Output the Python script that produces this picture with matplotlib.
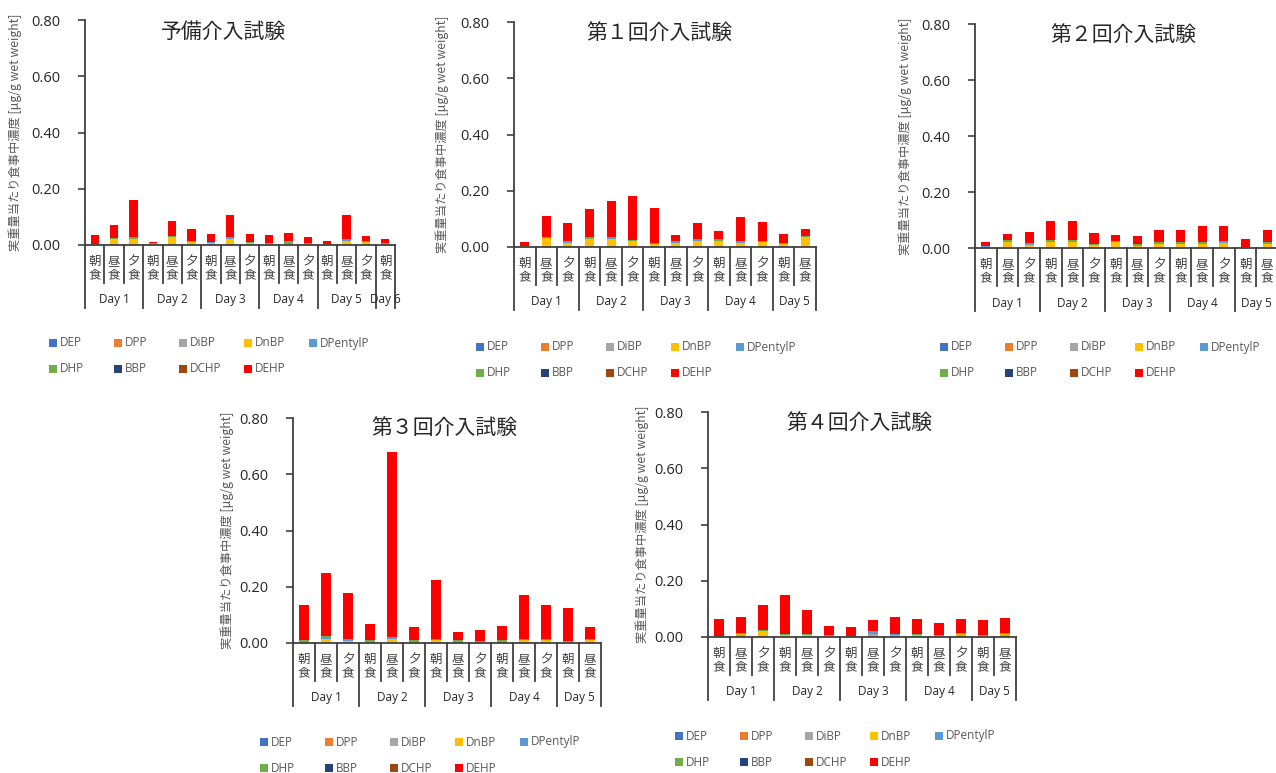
import matplotlib
matplotlib.use("Agg")
import matplotlib.pyplot as plt
from matplotlib.patches import Rectangle
from matplotlib.lines import Line2D
from matplotlib.transforms import blended_transform_factory
import numpy as np

plt.rcParams['font.family'] = ['Open Sans', 'Noto Sans CJK JP', 'DejaVu Sans']

W, H = 1276, 773

COMPOUNDS = ["DEP", "DPP", "DiBP", "DnBP", "DPentylP", "DHP", "BBP", "DCHP", "DEHP"]
COLORS = ["#4472C4", "#ED7D31", "#A5A5A5", "#FFC000", "#5B9BD5",
          "#70AD47", "#264478", "#9E480E", "#FF0000"]
YLABEL = "実重量当たり食事中濃度 [μg/g wet weight]"
YTICKS = [0.0, 0.2, 0.4, 0.6, 0.8]

# ---- 予備介入試験 ----
PRE_TITLE = "予備介入試験"
PRE_MEALS = ["朝食", "昼食", "夕食", "朝食", "昼食", "夕食", "朝食", "昼食", "夕食",
             "朝食", "昼食", "夕食", "朝食", "昼食", "夕食", "朝食"]
PRE_DAYS = ["Day 1", "Day 2", "Day 3", "Day 4", "Day 5", "Day 6"]
PRE_DAY_SIZES = [3, 3, 3, 3, 3, 1]
PRE_DEP = [0.0, 0.0, 0.0, 0.0, 0.0, 0.0, 0.0, 0.0, 0.0, 0.0, 0.0, 0.0, 0.0, 0.0, 0.0, 0.0]
PRE_DPP = [0.0, 0.0, 0.0, 0.0, 0.0, 0.0, 0.0, 0.0, 0.0, 0.0, 0.0, 0.0, 0.0, 0.0, 0.0, 0.0]
PRE_DIBP = [0.001, 0.003, 0.004, 0.001, 0.003, 0.002, 0.002, 0.003, 0.002, 0.001, 0.002, 0.001, 0.001, 0.002, 0.002, 0.001]
PRE_DNBP = [0.001, 0.017, 0.016, 0.002, 0.024, 0.008, 0.006, 0.019, 0.004, 0.002, 0.003, 0.003, 0.001, 0.013, 0.008, 0.003]
PRE_DPENTYLP = [0.001, 0.002, 0.002, 0.001, 0.002, 0.002, 0.001, 0.002, 0.002, 0.001, 0.003, 0.002, 0.001, 0.002, 0.002, 0.002]
PRE_DHP = [0.001, 0.002, 0.005, 0.002, 0.003, 0.002, 0.002, 0.003, 0.002, 0.002, 0.005, 0.002, 0.001, 0.003, 0.002, 0.002]
PRE_BBP = [0.0, 0.0, 0.0, 0.0, 0.0, 0.0, 0.0, 0.0, 0.0, 0.0, 0.0, 0.0, 0.0, 0.0, 0.0, 0.0]
PRE_DCHP = [0.0, 0.0, 0.0, 0.0, 0.0, 0.0, 0.0, 0.0, 0.0, 0.0, 0.0, 0.0, 0.0, 0.0, 0.0, 0.0]
PRE_DEHP = [0.032, 0.047, 0.134, 0.004, 0.054, 0.042, 0.027, 0.078, 0.029, 0.029, 0.029, 0.020, 0.011, 0.085, 0.019, 0.012]

# ---- 介入試験 第1回〜第4回 (14 meals each) ----
INT_MEALS = ["朝食", "昼食", "夕食", "朝食", "昼食", "夕食", "朝食", "昼食", "夕食",
             "朝食", "昼食", "夕食", "朝食", "昼食"]
INT_DAYS = ["Day 1", "Day 2", "Day 3", "Day 4", "Day 5"]
INT_DAY_SIZES = [3, 3, 3, 3, 2]
INT_ND = [0.0, 0.0, 0.0, 0.0, 0.0, 0.0, 0.0, 0.0, 0.0, 0.0, 0.0, 0.0, 0.0, 0.0]

R1_TITLE = "第１回介入試験"
R1_DIBP = [0.001, 0.003, 0.003, 0.003, 0.003, 0.002, 0.002, 0.002, 0.003, 0.003, 0.002, 0.002, 0.002, 0.004]
R1_DNBP = [0.002, 0.028, 0.010, 0.025, 0.027, 0.018, 0.010, 0.013, 0.019, 0.017, 0.013, 0.016, 0.008, 0.030]
R1_DPENTYLP = [0.001, 0.001, 0.004, 0.002, 0.002, 0.002, 0.002, 0.002, 0.004, 0.003, 0.002, 0.002, 0.002, 0.003]
R1_DHP = [0.001, 0.002, 0.005, 0.004, 0.002, 0.002, 0.002, 0.003, 0.004, 0.004, 0.003, 0.003, 0.003, 0.003]
R1_DEHP = [0.013, 0.077, 0.064, 0.101, 0.128, 0.159, 0.122, 0.021, 0.054, 0.031, 0.085, 0.065, 0.030, 0.024]

R2_TITLE = "第２回介入試験"
R2_DIBP = [0.002, 0.003, 0.002, 0.003, 0.003, 0.002, 0.002, 0.002, 0.002, 0.002, 0.002, 0.002, 0.001, 0.002]
R2_DNBP = [0.003, 0.017, 0.010, 0.017, 0.019, 0.008, 0.020, 0.006, 0.013, 0.013, 0.013, 0.016, 0.003, 0.011]
R2_DPENTYLP = [0.001, 0.004, 0.002, 0.003, 0.004, 0.002, 0.001, 0.003, 0.002, 0.002, 0.003, 0.003, 0.000, 0.003]
R2_DHP = [0.001, 0.004, 0.003, 0.004, 0.004, 0.003, 0.001, 0.003, 0.003, 0.003, 0.004, 0.003, 0.001, 0.004]
R2_DEHP = [0.014, 0.021, 0.039, 0.069, 0.068, 0.037, 0.021, 0.029, 0.044, 0.046, 0.058, 0.056, 0.027, 0.044]

R3_TITLE = "第３回介入試験"
R3_DIBP = [0.002, 0.004, 0.003, 0.003, 0.004, 0.002, 0.003, 0.002, 0.002, 0.002, 0.003, 0.003, 0.002, 0.003]
R3_DNBP = [0.003, 0.011, 0.005, 0.001, 0.011, 0.002, 0.009, 0.001, 0.001, 0.002, 0.007, 0.007, 0.001, 0.007]
R3_DPENTYLP = [0.002, 0.005, 0.002, 0.004, 0.003, 0.004, 0.002, 0.003, 0.002, 0.004, 0.003, 0.003, 0.001, 0.002]
R3_DHP = [0.003, 0.005, 0.003, 0.004, 0.004, 0.004, 0.002, 0.004, 0.002, 0.004, 0.003, 0.003, 0.002, 0.003]
R3_DEHP = [0.124, 0.225, 0.166, 0.054, 0.657, 0.044, 0.208, 0.028, 0.038, 0.048, 0.153, 0.120, 0.119, 0.042]

R4_TITLE = "第４回介入試験"
R4_DIBP = [0.002, 0.008, 0.003, 0.005, 0.005, 0.004, 0.002, 0.010, 0.006, 0.005, 0.004, 0.007, 0.003, 0.007]
R4_DNBP = [0.001, 0.002, 0.018, 0.001, 0.001, 0.001, 0.001, 0.002, 0.002, 0.001, 0.001, 0.002, 0.001, 0.002]
R4_DPENTYLP = [0.000, 0.002, 0.002, 0.002, 0.002, 0.001, 0.000, 0.005, 0.002, 0.002, 0.001, 0.003, 0.001, 0.003]
R4_DHP = [0.001, 0.004, 0.002, 0.002, 0.002, 0.002, 0.001, 0.005, 0.002, 0.002, 0.002, 0.003, 0.001, 0.003]
R4_DEHP = [0.061, 0.054, 0.090, 0.138, 0.087, 0.031, 0.030, 0.038, 0.058, 0.053, 0.041, 0.050, 0.053, 0.051]

TEXT_DARK = "#404040"
TEXT_GRAY = "#595959"
AXIS_COLOR = "#404040"


def draw_legend(fig, x_left, y_row1, pitch=65, row_gap=26, box=8):
    """Two-row legend with equally spaced entries (5 per row)."""
    for k, (name, color) in enumerate(zip(COMPOUNDS, COLORS)):
        row, col = divmod(k, 5)
        x = x_left + col * pitch
        yc = y_row1 + row * row_gap
        fig.add_artist(Rectangle((x / W, 1 - (yc + box / 2) / H), box / W, box / H,
                                 transform=fig.transFigure, facecolor=color,
                                 edgecolor='none'))
        fig.text((x + box + 3) / W, 1 - yc / H, name, ha='left', va='center',
                 fontsize=8.5, color=TEXT_GRAY)


def draw_panel(fig, box, title, title_xy, meals, days, day_sizes, series,
               legend_xy, ylabel_x):
    x0, y0, x1, y1 = box
    ax = fig.add_axes([x0 / W, 1 - y1 / H, (x1 - x0) / W, (y1 - y0) / H])
    ax_h = y1 - y0
    n = len(meals)
    xs = np.arange(n)
    bottom = np.zeros(n)
    for name, color, vals in zip(COMPOUNDS, COLORS, series):
        vals = np.asarray(vals, dtype=float)
        ax.bar(xs, vals, width=0.42, bottom=bottom, color=color, linewidth=0,
               label=name)
        bottom += vals

    ax.set_xlim(-0.5, n - 0.5)
    ax.set_ylim(0, 0.8)
    ax.set_yticks(YTICKS)
    ax.set_yticklabels([f"{v:.2f}" for v in YTICKS], fontsize=10.5,
                       color="#262626", family="Open Sans")
    ax.tick_params(axis='y', length=5, width=1.2, color=AXIS_COLOR, pad=13)
    ax.set_xticks([])
    for s in ("top", "right"):
        ax.spines[s].set_visible(False)
    for s in ("left", "bottom"):
        ax.spines[s].set_color(AXIS_COLOR)
        ax.spines[s].set_linewidth(1.3)

    tr = blended_transform_factory(ax.transData, ax.transAxes)

    # category labels (vertical stacked characters)
    for i, m in enumerate(meals):
        ax.text(i, -23 / ax_h, "\n".join(m), transform=tr, ha='center',
                va='center', fontsize=9, color=TEXT_DARK,
                family=["Noto Sans CJK JP"], linespacing=1.0)

    # separators and day labels
    bounds = np.cumsum([0] + list(day_sizes))
    for i in range(n + 1):
        long = i in bounds
        depth = 63 if long else 38
        ax.add_line(Line2D([i - 0.5, i - 0.5], [0, -depth / ax_h], transform=tr,
                           color=AXIS_COLOR, linewidth=1.3, clip_on=False))
    for d, s, e in zip(days, bounds[:-1], bounds[1:]):
        ax.text((s + e - 1) / 2, -55 / ax_h, d, transform=tr, ha='center',
                va='center', fontsize=8.5, color="#262626")

    # title and y label
    fig.text(title_xy[0] / W, 1 - title_xy[1] / H, title, ha='center',
             va='center', fontsize=15, color="#262626",
             family=["Noto Sans CJK JP"])
    fig.text(ylabel_x / W, 1 - ((y0 + y1) / 2) / H, YLABEL, rotation=90,
             ha='center', va='center', fontsize=8.8, color=TEXT_GRAY,
             family=["Noto Sans CJK JP", "DejaVu Sans"])

    draw_legend(fig, legend_xy[0], legend_xy[1])
    return ax


fig = plt.figure(figsize=(W / 100, H / 100), dpi=100)

draw_panel(fig, (85, 20, 395, 245), PRE_TITLE, (224, 32), PRE_MEALS, PRE_DAYS,
           PRE_DAY_SIZES,
           [PRE_DEP, PRE_DPP, PRE_DIBP, PRE_DNBP, PRE_DPENTYLP, PRE_DHP,
            PRE_BBP, PRE_DCHP, PRE_DEHP],
           (49, 343), 15)

draw_panel(fig, (514, 22, 816, 247), R1_TITLE, (659, 33), INT_MEALS, INT_DAYS,
           INT_DAY_SIZES,
           [INT_ND, INT_ND, R1_DIBP, R1_DNBP, R1_DPENTYLP, R1_DHP,
            INT_ND, INT_ND, R1_DEHP],
           (476, 347), 442)

draw_panel(fig, (975, 24, 1278, 248), R2_TITLE, (1123, 35), INT_MEALS, INT_DAYS,
           INT_DAY_SIZES,
           [INT_ND, INT_ND, R2_DIBP, R2_DNBP, R2_DPENTYLP, R2_DHP,
            INT_ND, INT_ND, R2_DEHP],
           (940, 347), 905)

draw_panel(fig, (293, 418, 601, 643), R3_TITLE, (444, 428), INT_MEALS, INT_DAYS,
           INT_DAY_SIZES,
           [INT_ND, INT_ND, R3_DIBP, R3_DNBP, R3_DPENTYLP, R3_DHP,
            INT_ND, INT_ND, R3_DEHP],
           (260, 742), 227)

draw_panel(fig, (708, 412, 1016, 637), R4_TITLE, (859, 423), INT_MEALS, INT_DAYS,
           INT_DAY_SIZES,
           [INT_ND, INT_ND, R4_DIBP, R4_DNBP, R4_DPENTYLP, R4_DHP,
            INT_ND, INT_ND, R4_DEHP],
           (675, 736), 642)

fig.savefig("out.png", dpi=100)
